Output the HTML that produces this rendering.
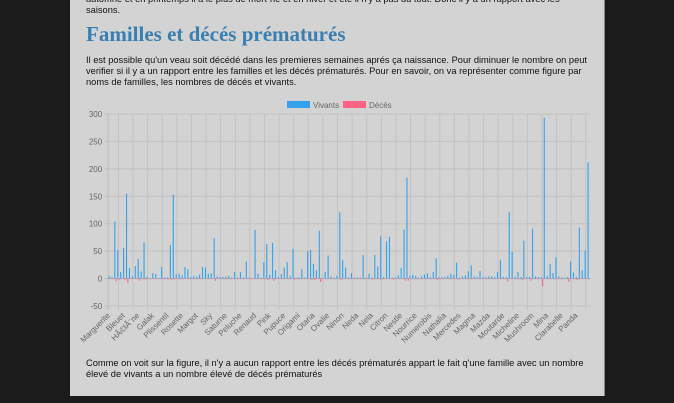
<!DOCTYPE html>
<html><head><meta charset="utf-8">
<style>
html,body{margin:0;padding:0;width:674px;height:403px;overflow:hidden;background:#1b1b1b;font-family:"Liberation Sans",Arial,sans-serif;}
#panel{position:absolute;left:70px;top:0;width:534px;height:396px;background:#d3d3d3;border-right:1px solid #888;overflow:hidden;}
.p{position:absolute;left:16px;font-size:9.3px;line-height:11px;color:#111;margin:0;white-space:nowrap;}
h2{position:absolute;left:16px;top:22px;margin:0;font-family:"Liberation Serif",serif;font-size:21px;color:#3a7fb2;font-weight:bold;}
svg{position:absolute;left:0;top:0;}
</style></head><body>
<div id="panel">
<p class="p" style="top:-6px">automne et en printemps il a le plus de mort-né et en hiver et été il n'y a pas du tout. Donc il y a un rapport avec les<br>saisons.</p>
<h2>Familles et décés prématurés</h2>
<p class="p" style="top:55px">Il est possible qu'un veau soit décédé dans les premieres semaines aprés ça naissance. Pour diminuer le nombre on peut<br>verifier si il y a un rapport entre les familles et les décés prématurés. Pour en savoir, on va représenter comme figure par<br>noms de familles, les nombres de décés et vivants.</p>
<p class="p" style="top:358px">Comme on voit sur la figure, il n'y a aucun rapport entre les décés prématurés appart le fait q'une famille avec un nombre<br>élevé de vivants a un nombre élevé de décés prématurés</p>
</div>
<svg id="chart" width="674" height="403"></svg>
<script>
const labelNames = ["Marguerite","Bleuet","HÃ©lÃ¨ne","Galak","Plissentil","Rosette","Margot","Sky","Saturne","Peluche","Renaud","Pink","Pupuce","Origami","Otaria","Ovalie","Ninon","Neda","Nela","Citron","Nestle","Nourrice","Numerobis","Nathalia","Mercedes","Magma","Mazda","Moutarde","Micheline","Mushroom","Mina","Clarabelle","Panda"];
const vivants = [5,3,104,52,12,56,155,19,4,23,36,13,66,3,1,10,8,1,21,2,2,61,153,8,9,6,21,17,3,5,4,7,21,20,9,10,74,4,3,3,4,5,
2,12,2,12,2,31,2,0,89,9,2,30,63,7,65,15,3,8,20,30,5,54,2,2,17,2,50,52,27,15,87,2,12,42,4,2,5,121,34,20,2,10,
2,2,2,43,2,9,2,43,22,77,3,68,76,2,2,6,19,89,184,5,7,5,2,4,7,10,3,12,37,3,3,3,5,9,7,29,2,4,6,13,24,4,
3,14,3,3,4,4,3,12,34,3,3,121,49,3,12,3,69,3,3,91,4,3,3,293,5,27,10,39,4,2,2,3,31,11,3,93,15,51,212];
const deces = new Array(165).fill(0);
const decesIdx = [2,3,5,6,10,12,21,22,32,36,54,56,63,68,69,70,72,79,90,93,97,101,102,109,112,119,126,136,141,144,148,150,157,160];
const decesVal = [-5,-3,-3,-8,-4,-2,-3,-2,-1,-4,-3,-4,-3,-1,-3,-3,-6,-3,-2,-3,-2,-4,-4,-1,-3,-2,-1,-5,-3,-4,-14,-1,-6,-3];
const yTicks = [300,250,200,150,100,50,0,-50];
decesIdx.forEach((k,i)=>deces[k]=decesVal[i]);
const categories = vivants.map((v,i)=> i%5===0 ? labelNames[i/5] : "Famille"+i);

const svg=document.getElementById('chart');const NS='http://www.w3.org/2000/svg';
const L=108.2,R=590.2,T=114,B=306,yMin=-50,yMax=300;
const bw=(R-L)/categories.length;
const y=v=>T+(yMax-v)/(yMax-yMin)*(B-T);
const x=i=>L+(i+0.5)*bw;
function mk(t,a){const e=document.createElementNS(NS,t);for(const k in a)e.setAttribute(k,a[k]);svg.appendChild(e);return e;}
yTicks.forEach(t=>{
 const g=mk('line',{x1:L-4,x2:R,y1:y(t),y2:y(t),stroke:t===0?'#b5b5b5':'#c2c2c2','stroke-width':1});
 
 
 const tx=mk('text',{x:L-6,y:y(t)+3,'text-anchor':'end','font-size':8,fill:'#666','font-family':'Liberation Sans, sans-serif'});
 tx.textContent=t;
 
 
});
mk('line',{x1:L,x2:L,y1:T,y2:B+4,stroke:'#bdbdbd'});
categories.forEach((c,i)=>{
 if(i%5!==0) return;
 const gx=x(i)+bw*3;
 const gl=mk('line',{x1:gx,x2:gx,y1:T,y2:B+4,stroke:'#c2c2c2'});
 
 
 const cx=x(i)+1, cy=B+10;
 const t=mk('text',{x:cx,y:cy,'text-anchor':'end','font-size':8,fill:'#666','font-family':'Liberation Sans, sans-serif',transform:`rotate(-45 ${cx} ${cy})`});
 t.textContent=c;
 
 
});
const w=bw*0.38;
vivants.forEach((v,i)=>{
 const y0=y(0),yv=y(v);
 const r=mk('rect',{x:x(i)-w-0.1,y:Math.min(y0,yv),width:w,height:Math.max(0.6,Math.abs(y0-yv)),fill:'#36a2eb'});
 
 
});
deces.forEach((v,i)=>{
 const y0=y(0),yv=y(v);
 const r=mk('rect',{x:x(i)+0.1,y:Math.min(y0,yv),width:w,height:Math.max(0.6,Math.abs(y0-yv)),fill:'#ff6384'});
 
 
});
// legend
const lg=[['Vivants','#36a2eb',287],['Décès','#ff6384',343]];
lg.forEach(([n,c,lx])=>{
 const b=mk('rect',{x:lx,y:101,width:23,height:7,fill:c});
 
 
 const t=mk('text',{x:lx+26,y:108,'font-size':8,fill:'#666','font-family':'Liberation Sans, sans-serif'});
 t.textContent=n;
 
 
});
</script>
</body></html>
